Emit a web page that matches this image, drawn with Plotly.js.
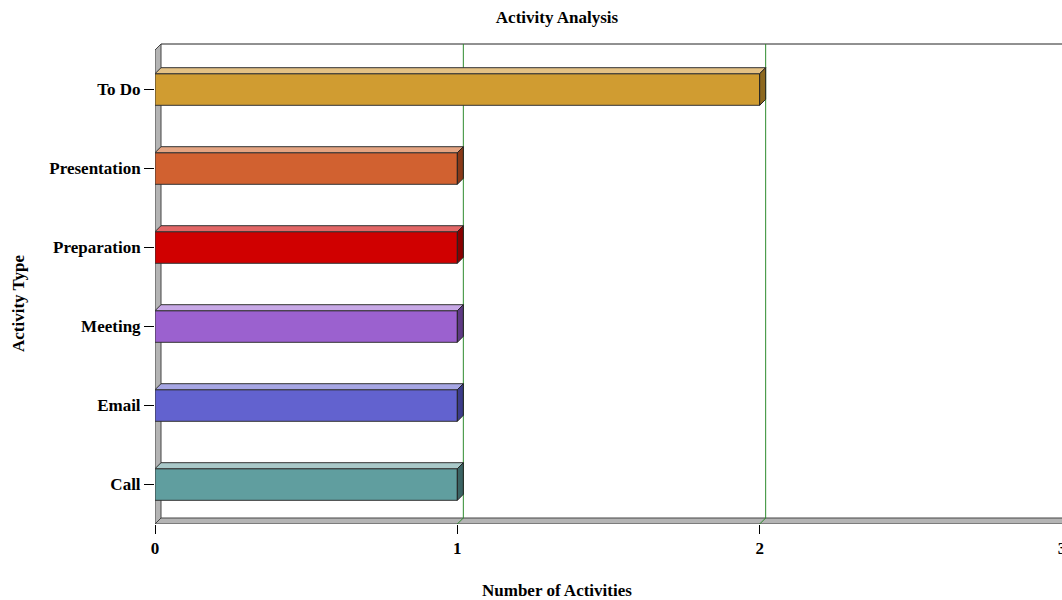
<!DOCTYPE html>
<html>
<head>
<meta charset="utf-8">
<script src="https://cdn.plot.ly/plotly-3.0.1.min.js"></script>
<style>html,body{margin:0;padding:0;background:#fff;}#chart{width:1062px;height:600px;}</style>
</head>
<body>
<div id="chart"></div>
<script>
// ---- data ----
const categories = ['Call', 'Email', 'Meeting', 'Preparation', 'Presentation', 'To Do'];
const counts = [1, 1, 1, 1, 1, 2];
const xTickValues = [0, 1, 2, 3];

// ---- styles ----
const frontColors = ['#609E9F', '#6262CF', '#9B61CF', '#D00000', '#D16130', '#D09C31'];
const topColors   = ['#A9C9C9', '#A6A6E4', '#C7A8E6', '#E26666', '#E4A482', '#E4C184'];
const sideColors  = ['#3B6464', '#3C3C8A', '#5E3A84', '#8A0000', '#8A3A18', '#8C681E'];
const FONT = 'Liberation Serif, Times New Roman, serif';
const FS = 17;

const W = 1062, H = 600;
const mL = 155, mR = 0, mT = 42, mB = 76;
const xMax = 3;
const pxPerX = (W - mL - mR) / xMax;
const catPx = 79;                         // pixels per category
const depth = 6;                          // 3D depth in px
const dx = depth / pxPerX;
const dy = depth / catPx;
const yBot = -0.5;
const yTop = categories.length - 0.5 + dy;   // back wall top
const yRangeTop = yBot + (H - mT - mB) / catPx;
const xFar = xMax + 0.2;
const half = 0.2;                         // half bar width

const idx = categories.map((_, i) => i);

const shapes = [];
// left side wall
shapes.push({type: 'path', xref: 'x', yref: 'y', layer: 'below',
  path: `M0,${yBot} L${dx},${yBot + dy} L${dx},${yTop} L0,${yTop - dy} Z`,
  fillcolor: '#B4B4B4', line: {color: '#444', width: 1}});
// floor
shapes.push({type: 'path', xref: 'x', yref: 'y', layer: 'below',
  path: `M0,${yBot} L${dx},${yBot + dy} L${xFar},${yBot + dy} L${xFar},${yBot} Z`,
  fillcolor: '#B4B4B4', line: {color: '#444', width: 1}});
// back wall top edge
shapes.push({type: 'line', xref: 'x', yref: 'y', layer: 'below',
  x0: dx, x1: xFar, y0: yTop, y1: yTop, line: {color: '#222', width: 1}});
// back grid lines
xTickValues.filter(v => v > 0 && v < xMax).forEach(v => {
  shapes.push({type: 'line', xref: 'x', yref: 'y', layer: 'below',
    x0: v + dx, x1: v + dx, y0: yBot + dy, y1: yTop, line: {color: '#2E8B2E', width: 1}});
  shapes.push({type: 'line', xref: 'x', yref: 'y', layer: 'below',
    x0: v, x1: v + dx, y0: yBot, y1: yBot + dy, line: {color: '#2E8B2E', width: 1}});
});
// bar top and side faces
counts.forEach((v, i) => {
  const y0 = i - half, y1 = i + half;
  shapes.push({type: 'path', xref: 'x', yref: 'y', layer: 'above',
    path: `M0,${y1} L${dx},${y1 + dy} L${v + dx},${y1 + dy} L${v},${y1} Z`,
    fillcolor: topColors[i], line: {color: '#333', width: 1}});
  shapes.push({type: 'path', xref: 'x', yref: 'y', layer: 'above',
    path: `M${v},${y0} L${v},${y1} L${v + dx},${y1 + dy} L${v + dx},${y0 + dy} Z`,
    fillcolor: sideColors[i], line: {color: '#222', width: 1}});
});

const data = [{
  type: 'bar', orientation: 'h',
  x: counts, y: idx, width: 2 * half,
  marker: {color: frontColors, line: {color: '#333', width: 1}},
  hoverinfo: 'x+text', text: categories, textposition: 'none'
}];

const layout = {
  width: W, height: H,
  margin: {l: mL, r: mR, t: mT, b: mB, pad: 0},
  paper_bgcolor: '#fff', plot_bgcolor: '#fff',
  showlegend: false,
  font: {family: FONT, size: FS, color: '#000', weight: 'bold'},
  title: {text: 'Activity Analysis', font: {family: FONT, size: FS, weight: 'bold', color: '#000'},
          xref: 'paper', x: (557 - mL) / (W - mL - mR), xanchor: 'center', y: 1 - 17 / H, yanchor: 'middle'},
  xaxis: {range: [0, xMax], tickvals: xTickValues, ticktext: xTickValues.map(String),
          ticks: 'outside', ticklen: 9, tickcolor: '#000', showgrid: false, zeroline: false,
          showline: false, ticklabeloverflow: 'allow',
          tickfont: {family: FONT, size: FS, weight: 'bold'}, fixedrange: true},
  yaxis: {range: [yBot, yRangeTop], tickvals: idx, ticktext: categories,
          ticks: 'outside', ticklen: 10, tickcolor: '#000', showgrid: false, zeroline: false,
          showline: false, tickfont: {family: FONT, size: FS, weight: 'bold'}, fixedrange: true},
  shapes: shapes,
  annotations: [
    {text: 'Number of Activities', xref: 'paper', yref: 'paper',
     x: (557 - mL) / (W - mL - mR), y: -(590 - (H - mB)) / (H - mT - mB), xanchor: 'center', yanchor: 'middle',
     showarrow: false, font: {family: FONT, size: FS, weight: 'bold', color: '#000'}},
    {text: 'Activity Type', xref: 'paper', yref: 'paper',
     x: -(mL - 18) / (W - mL - mR), y: (H - mB - 303) / (H - mT - mB), xanchor: 'center', yanchor: 'middle',
     textangle: -90, showarrow: false, font: {family: FONT, size: FS, weight: 'bold', color: '#000'}}
  ]
};

Plotly.newPlot('chart', data, layout, {staticPlot: true, displayModeBar: false});
</script>
</body>
</html>
